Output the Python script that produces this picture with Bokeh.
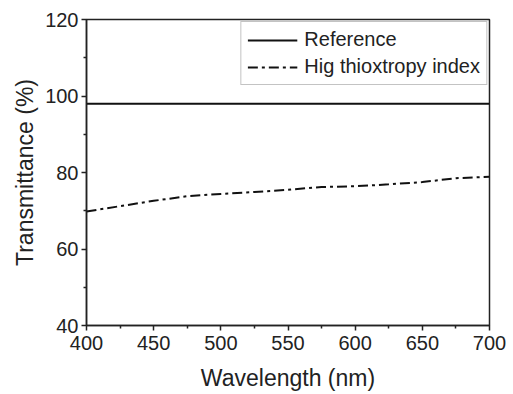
from bokeh.plotting import figure
from bokeh.models import Range1d, Legend, LegendItem, FixedTicker
from bokeh.embed import file_html
from bokeh.resources import INLINE

wavelength = [400, 425, 450, 475, 500, 525, 550, 575, 600, 625, 650, 675, 700]
reference = [98.0] * len(wavelength)
thixotropy = [69.8, 71.2, 72.6, 73.8, 74.4, 74.9, 75.5, 76.2, 76.4, 76.9, 77.5, 78.5, 78.9]
x_ticks = [400, 450, 500, 550, 600, 650, 700]
y_ticks = [40, 60, 80, 100, 120]

FONT = "Liberation Sans"

p = figure(width=513, height=394, output_backend="svg", toolbar_location=None,
           x_range=Range1d(400, 700), y_range=Range1d(40, 120),
           min_border_left=86, min_border_right=24, min_border_top=19, min_border_bottom=69)
p.background_fill_color = "white"
p.border_fill_color = "white"
p.outline_line_color = "#222222"
p.outline_line_width = 1.5
p.grid.visible = False

r1 = p.line(wavelength, reference, line_color="#111111", line_width=2)
r2 = p.line(wavelength, thixotropy, line_color="#111111", line_width=2, line_dash="10 4 3 4")

for ax, ticks in ((p.xaxis[0], x_ticks), (p.yaxis[0], y_ticks)):
    ax.ticker = FixedTicker(ticks=ticks, minor_ticks=[(a + b) / 2 for a, b in zip(ticks[:-1], ticks[1:])])
    ax.major_tick_in = 0
    ax.major_tick_out = 5
    ax.minor_tick_in = 0
    ax.minor_tick_out = 3
    ax.axis_line_color = "#222222"
    ax.axis_line_width = 1.5
    ax.major_tick_line_color = "#222222"
    ax.major_tick_line_width = 1.5
    ax.minor_tick_line_color = "#222222"
    ax.minor_tick_line_width = 1.5
    ax.major_label_text_font = FONT
    ax.major_label_text_font_size = "20px"
    ax.major_label_text_color = "#222222"
    ax.axis_label_text_font = FONT
    ax.axis_label_text_font_size = "23px"
    ax.axis_label_text_font_style = "normal"
    ax.axis_label_text_color = "#222222"

p.xaxis.axis_label = "Wavelength (nm)"
p.yaxis.axis_label = "Transmittance (%)"
p.xaxis.major_label_standoff = 5
p.xaxis.axis_label_standoff = 12
p.yaxis.major_label_standoff = 3
p.yaxis.axis_label_standoff = 4

legend = Legend(items=[LegendItem(label="Reference", renderers=[r1]),
                       LegendItem(label="Hig thioxtropy index", renderers=[r2])],
                location="top_right")
legend.label_text_font = FONT
legend.label_text_font_size = "20px"
legend.label_text_color = "#222222"
legend.border_line_color = "#888888"
legend.border_line_width = 1
legend.glyph_width = 50
legend.glyph_height = 22
legend.label_height = 22
legend.spacing = 4
legend.padding = 6
legend.margin = 2
legend.label_standoff = 7
legend.background_fill_alpha = 1
p.add_layout(legend)

open("out.html", "w").write(file_html(p, INLINE))
